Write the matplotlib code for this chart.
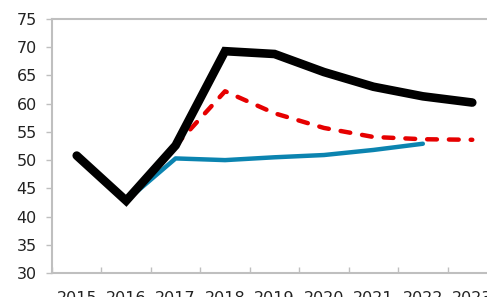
import matplotlib.pyplot as plt
import numpy as np

years = ['2015', '2016', '2017', '2018', '2019', '2020', '2021', '2022', '2023']
black_vals = [50.8, 42.8, 52.6, 69.3, 68.8, 65.6, 63.0, 61.3, 60.2]
red_vals = [None, None, 52.6, 62.2, 58.3, 55.7, 54.1, 53.7, 53.6]
blue_vals = [None, 42.8, 50.3, 50.0, 50.5, 50.9, 51.8, 52.9, None]

x = np.arange(len(years))


def to_arr(v):
    return np.array([np.nan if a is None else a for a in v], dtype=float)


fig = plt.figure(figsize=(4.87, 2.97), dpi=100)
ax = fig.add_axes([52 / 487, 24 / 297, 445 / 487, 254 / 297])

ax.plot(x, to_arr(blue_vals), color='#0b84b0', lw=3.2, solid_capstyle='round', zorder=2)
ax.plot(x, to_arr(red_vals), color='#e60000', lw=3.2, ls=(0, (2.2, 2.7)),
        dash_capstyle='round', zorder=3)
ax.plot(x, to_arr(black_vals), color='black', lw=6.2, solid_capstyle='round',
        solid_joinstyle='miter', zorder=4)

ax.set_xlim(-0.5, len(years) - 0.5)
ax.set_ylim(30, 75)
ax.set_yticks(np.arange(30, 76, 5))
ax.set_xticks(x)
ax.set_xticklabels(years)
ax.set_xticks(np.arange(-0.5, len(years), 1), minor=True)

for s in ['left', 'bottom', 'top']:
    ax.spines[s].set_color('#bfbfbf')
    ax.spines[s].set_linewidth(1.5)
ax.spines['right'].set_visible(False)

ax.tick_params(axis='y', length=4, color='#bfbfbf', width=1, labelsize=11.5,
               pad=7, labelcolor='#222222')
ax.tick_params(axis='x', which='major', length=0, labelsize=11.5, pad=13,
               labelcolor='#222222')
ax.tick_params(axis='x', which='minor', length=4, direction='in', color='#bfbfbf', width=1)

fig.savefig('out.png', dpi=100)
